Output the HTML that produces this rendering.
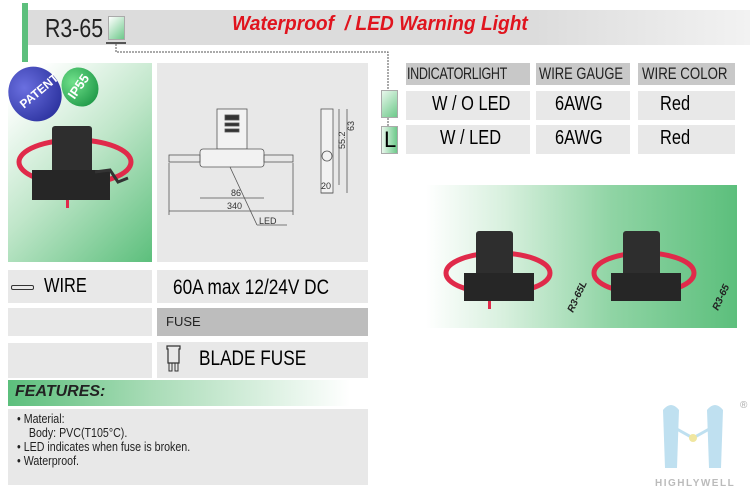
<!DOCTYPE html>
<html><head><meta charset="utf-8"><style>
*{margin:0;padding:0;box-sizing:border-box}
body{width:750px;height:490px;background:#fff;position:relative;overflow:hidden;font-family:"Liberation Sans",Arial,sans-serif}
.a{position:absolute}
.g{background:#e8e8e8}
.cond{transform:scaleX(.82);transform-origin:left center;white-space:nowrap}
</style></head><body>
<div class="a" style="left:22px;top:3px;width:6px;height:59px;background:#5cbf7c"></div>
<div class="a" style="left:28px;top:10px;width:722px;height:35px;background:linear-gradient(90deg,#dcdcdc 0%,#dcdcdc 70%,#f2f2f2 100%)"></div>
<div class="a cond" style="left:45px;top:13px;font-size:26px;color:#222">R3-65</div>
<div class="a" style="left:108px;top:16px;width:17px;height:24px;background:linear-gradient(135deg,#fff,#6dc98a);border:1px solid #aaa"></div>
<div class="a" style="left:106px;top:42px;width:20px;height:2px;background:#555"></div>
<div class="a" style="left:232px;top:13px;font-size:20px;font-weight:bold;font-style:italic;color:#e0141e;white-space:nowrap;transform:scaleX(.96);transform-origin:left center">Waterproof &nbsp;/ LED Warning Light</div>
<svg class="a" style="left:0;top:0" width="750" height="490">
<polyline points="116,44 116,52 388,52 388,90" fill="none" stroke="#555" stroke-width="1" stroke-dasharray="2,1"/>
<line x1="388" y1="118" x2="388" y2="126" stroke="#555" stroke-dasharray="2,1"/>
</svg>
<div class="a" style="left:8px;top:63px;width:144px;height:199px;background:linear-gradient(135deg,#fff 10%,#bfe6c9 50%,#5cbf7c 100%)"></div>
<div class="a" style="left:9px;top:66px;width:52px;height:56px;border-radius:50%;background:radial-gradient(circle at 40% 30%,#6a6fe0,#1e2590);transform:rotate(-35deg)"></div>
<div class="a" style="left:16px;top:84px;color:#fff;font-weight:bold;font-size:12px;transform:rotate(-40deg)">PATENT</div>
<div class="a" style="left:62px;top:67px;width:36px;height:40px;border-radius:50%;background:radial-gradient(circle at 40% 30%,#6fe08a,#0f8a3a);transform:rotate(-30deg)"></div>
<div class="a" style="left:65px;top:79px;color:#fff;font-weight:bold;font-size:13px;transform:rotate(-55deg)">IP55</div>
<svg class="a" style="left:0;top:110px" width="150" height="100">
<ellipse cx="75" cy="52" rx="56" ry="22" fill="none" stroke="#e02a4a" stroke-width="5"/>
<rect x="52" y="16" width="40" height="48" rx="3" fill="#2e2e2e"/>
<rect x="32" y="60" width="78" height="30" fill="#262626"/>
<polyline points="95,62 110,60 118,72 128,68" fill="none" stroke="#333" stroke-width="3"/>
<rect x="66" y="90" width="3" height="8" fill="#e02a4a"/>
</svg>
<div class="a g" style="left:157px;top:63px;width:211px;height:199px"></div>
<svg class="a" style="left:157px;top:63px" width="211" height="199" font-family="Liberation Sans" font-size="9" fill="none" stroke="#555" stroke-width="0.8">
<rect x="60" y="46" width="30" height="40" fill="#f2f2f2"/>
<rect x="68" y="52" width="14" height="5" fill="#333"/>
<rect x="68" y="60" width="14" height="3" fill="#333"/><rect x="68" y="66" width="14" height="3" fill="#333"/>
<rect x="43" y="86" width="64" height="18" rx="3" fill="#f2f2f2"/>
<rect x="12" y="92" width="31" height="7"/><rect x="107" y="92" width="29" height="7"/>
<line x1="43" y1="135" x2="107" y2="135"/><line x1="12" y1="148" x2="136" y2="148"/>
<line x1="12" y1="100" x2="12" y2="152"/><line x1="136" y1="100" x2="136" y2="152"/>
<line x1="73" y1="104" x2="100" y2="162"/><line x1="100" y1="162" x2="130" y2="162"/>
<text x="74" y="133" fill="#333" stroke="none">86</text>
<text x="70" y="146" fill="#333" stroke="none">340</text>
<text x="102" y="161" fill="#333" stroke="none">LED</text>
<rect x="164" y="46" width="12" height="84" fill="#f2f2f2"/>
<circle cx="170" cy="93" r="5"/>
<line x1="182" y1="46" x2="182" y2="122"/><line x1="190" y1="46" x2="190" y2="130"/>
<line x1="164" y1="130" x2="176" y2="130"/>
<text x="-86" y="188" transform="rotate(-90)" fill="#333" stroke="none">55.2</text>
<text x="-68" y="197" transform="rotate(-90)" fill="#333" stroke="none">63</text>
<text x="164" y="126" fill="#333" stroke="none">20</text>
</svg>
<div class="a" style="left:381px;top:90px;width:17px;height:28px;background:linear-gradient(135deg,#e8f7ec,#6dc98a);border:1px solid #aaa"></div>
<div class="a" style="left:381px;top:126px;width:17px;height:28px;background:linear-gradient(90deg,#e8f7ec,#6dc98a);border:1px solid #aaa;font-size:22px;line-height:26px;padding-left:2px">L</div>
<div class="a" style="left:406px;top:63px;width:124px;height:22px;background:#c8c8c8"></div>
<div class="a" style="left:536px;top:63px;width:94px;height:22px;background:#c8c8c8"></div>
<div class="a" style="left:638px;top:63px;width:97px;height:22px;background:#c8c8c8"></div>
<div class="a" style="left:407px;top:64px;font-size:17px;color:#222;letter-spacing:-0.5px;transform:scaleX(.74);transform-origin:left center;white-space:nowrap">INDICATORLIGHT</div>
<div class="a" style="left:539px;top:64px;font-size:17px;color:#222;transform:scaleX(.76);transform-origin:left center;white-space:nowrap">WIRE GAUGE</div>
<div class="a" style="left:642px;top:64px;font-size:17px;color:#222;transform:scaleX(.78);transform-origin:left center;white-space:nowrap">WIRE COLOR</div>
<div class="a g" style="left:406px;top:91px;width:124px;height:29px"></div>
<div class="a g" style="left:536px;top:91px;width:94px;height:29px"></div>
<div class="a g" style="left:638px;top:91px;width:97px;height:29px"></div>
<div class="a g" style="left:406px;top:125px;width:124px;height:29px"></div>
<div class="a g" style="left:536px;top:125px;width:94px;height:29px"></div>
<div class="a g" style="left:638px;top:125px;width:97px;height:29px"></div>
<div class="a cond" style="left:432px;top:93px;font-size:20px">W / O LED</div>
<div class="a cond" style="left:555px;top:93px;font-size:20px">6AWG</div>
<div class="a cond" style="left:660px;top:93px;font-size:20px">Red</div>
<div class="a cond" style="left:440px;top:127px;font-size:20px">W / LED</div>
<div class="a cond" style="left:555px;top:127px;font-size:20px">6AWG</div>
<div class="a cond" style="left:660px;top:127px;font-size:20px">Red</div>
<div class="a" style="left:426px;top:185px;width:311px;height:143px;background:linear-gradient(90deg,#fff 0%,#d8f0de 25%,#8fd4a4 60%,#5cbf7c 100%)"></div>
<svg class="a" style="left:426px;top:185px" width="311" height="143">
<ellipse cx="72" cy="88" rx="52" ry="20" fill="none" stroke="#e02a4a" stroke-width="5"/>
<rect x="50" y="46" width="37" height="50" rx="3" fill="#2e2e2e"/>
<rect x="38" y="88" width="70" height="28" fill="#262626"/>
<rect x="62" y="116" width="3" height="8" fill="#e02a4a"/>
<ellipse cx="218" cy="88" rx="50" ry="20" fill="none" stroke="#e02a4a" stroke-width="5"/>
<rect x="197" y="46" width="37" height="50" rx="3" fill="#2e2e2e"/>
<rect x="185" y="88" width="70" height="28" fill="#262626"/>
<text x="0" y="0" transform="translate(147,128) rotate(-65)" font-family="Liberation Sans" font-size="10" font-weight="bold" font-style="italic" fill="#222">R3-65L</text>
<text x="0" y="0" transform="translate(292,126) rotate(-65)" font-family="Liberation Sans" font-size="10" font-weight="bold" font-style="italic" fill="#222">R3-65</text>
</svg>
<div class="a g" style="left:8px;top:270px;width:144px;height:33px"></div>
<div class="a g" style="left:157px;top:270px;width:211px;height:33px"></div>
<div class="a" style="left:11px;top:285px;width:23px;height:5px;border:1px solid #333;border-radius:2px"></div>
<div class="a cond" style="left:44px;top:275px;font-size:20px">WIRE</div>
<div class="a cond" style="left:173px;top:276px;font-size:21px">60A max 12/24V DC</div>
<div class="a g" style="left:8px;top:308px;width:144px;height:28px"></div>
<div class="a" style="left:157px;top:308px;width:211px;height:28px;background:#bdbdbd"></div>
<div class="a" style="left:166px;top:314px;font-size:13px;color:#222">FUSE</div>
<div class="a g" style="left:8px;top:343px;width:144px;height:35px"></div>
<div class="a g" style="left:157px;top:342px;width:211px;height:36px"></div>
<svg class="a" style="left:166px;top:345px" width="16" height="32"><path d="M1 1h13v3h-1v14H2V4H1z" fill="none" stroke="#333" stroke-width="1.2"/><rect x="3" y="18" width="3" height="8" fill="none" stroke="#333"/><rect x="9" y="18" width="3" height="8" fill="none" stroke="#333"/></svg>
<div class="a cond" style="left:199px;top:347px;font-size:21px">BLADE FUSE</div>
<div class="a" style="left:8px;top:380px;width:360px;height:26px;background:linear-gradient(90deg,#5cbf7c 0%,#a9dcb7 40%,#fff 95%)"></div>
<div class="a" style="left:15px;top:383px;font-size:16px;font-weight:bold;font-style:italic;color:#222">FEATURES:</div>
<div class="a g" style="left:8px;top:409px;width:360px;height:76px"></div>
<div class="a cond" style="left:17px;top:412px;font-size:13px;line-height:14px;color:#222">• Material:<br>&nbsp;&nbsp;&nbsp;&nbsp;Body: PVC(T105°C).<br>• LED indicates when fuse is broken.<br>• Waterproof.</div>
<svg class="a" style="left:655px;top:400px" width="95" height="90">
<path d="M8 10 q8-10 16 0 l-2 58 h-12z M52 10 q8-10 16 0 l-2 58 h-12z" fill="#bfe0f0"/>
<path d="M20 28 L38 38 L56 28" stroke="#bfe0f0" stroke-width="3" fill="none"/>
<circle cx="38" cy="38" r="4" fill="#f0e6a0"/>
<text x="85" y="8" font-size="10" fill="#aaa" font-family="Liberation Sans">®</text>
<text x="0" y="86" font-size="10" font-weight="bold" fill="#bbb" letter-spacing="1.5" font-family="Liberation Sans">HIGHLYWELL</text>
</svg>
</body></html>
